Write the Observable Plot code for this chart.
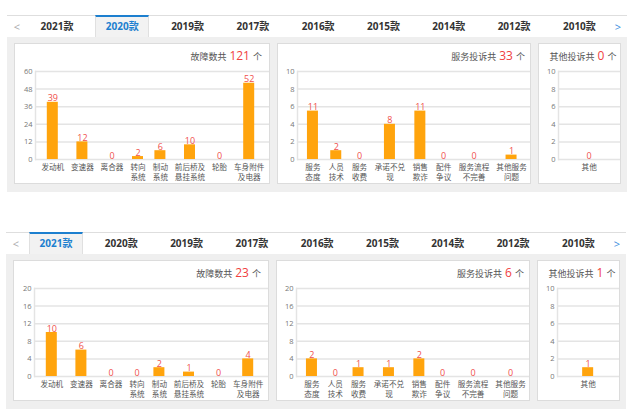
<!DOCTYPE html>
<html><head><meta charset="utf-8">
<script src="https://cdn.jsdelivr.net/npm/d3@7"></script>
<script src="https://cdn.jsdelivr.net/npm/@observablehq/plot@0.6"></script>
<style>
body{margin:0;width:640px;height:420px;background:#fff;position:relative;overflow:hidden;font-family:"Open Sans","Noto Sans CJK SC",sans-serif;}
.a{position:absolute;box-sizing:border-box;}
.tab{position:absolute;box-sizing:border-box;text-align:center;font-weight:bold;font-size:10px;color:#333;line-height:21px;font-family:"Open Sans","Noto Sans CJK SC",sans-serif;}
.tab.on{background:#f2f2f2;border-top:2px solid #1c7fcf;border-left:1px solid #e0e0e0;border-right:1px solid #e0e0e0;color:#1c7fcf;line-height:19px;}
.panel{position:absolute;box-sizing:border-box;background:#fff;border:1px solid #dcdcdc;}
.ttl{position:absolute;font-size:9px;color:#555;white-space:nowrap;font-family:"Noto Sans CJK SC",sans-serif;line-height:14px;}
.ttl b{font-weight:normal;color:#f0413f;font-size:12px;font-family:"Open Sans",sans-serif;margin:0 3px;}
</style></head><body>
<script>
const years = ["2021款","2020款","2019款","2017款","2016款","2015款","2014款","2012款","2010款"];
const faultCats = ["发动机","变速器","离合器","转向\n系统","制动\n系统","前后桥及\n悬挂系统","轮胎","车身附件\n及电器"];
const serviceCats = ["服务\n态度","人员\n技术","服务\n收费","承诺不兑\n现","销售\n欺诈","配件\n争议","服务流程\n不完善","其他服务\n问题"];
const otherCats = ["其他"];

// 2020款 (top screenshot)
const fault2020 = [39, 12, 0, 2, 6, 10, 0, 52];
const fault2020Bars = [39, 12, 0, 2, 6, 10, 0, 52];
const service2020 = [11, 2, 0, 8, 11, 0, 0, 1];
const service2020Bars = [5.5, 1, 0, 4, 5.5, 0, 0, 0.5];
const other2020 = [0];
const other2020Bars = [0];

// 2021款 (bottom screenshot)
const fault2021 = [10, 6, 0, 0, 2, 1, 0, 4];
const fault2021Bars = [10, 6, 0, 0, 2, 1, 0, 4];
const service2021 = [2, 0, 1, 1, 2, 0, 0, 0];
const service2021Bars = [4, 0, 2, 2, 4, 0, 0, 0];
const other2021 = [1];
const other2021Bars = [1];

const ticks60 = [0, 12, 24, 36, 48, 60];
const ticks20 = [0, 4, 8, 12, 16, 20];
const ticks10 = [0, 2, 4, 6, 8, 10];

function el(cls, x, y, w, h, style = "", html = "") {
  const d = document.createElement("div");
  d.className = cls;
  d.style.cssText = `left:${x}px;top:${y}px;` + (w != null ? `width:${w}px;` : "") + (h != null ? `height:${h}px;` : "") + style;
  d.innerHTML = html;
  document.body.appendChild(d);
  return d;
}

// columns are sized by their label width (as in the original table-like layout)
function chart(x, y, {cats, values, bars, domain, ticks, width, left, start, charW, gap}) {
  let acc = 0;
  const data = cats.map((c, i) => {
    const chars = d3.max(c.split("\n"), s => s.length);
    const w = chars * charW + gap;
    const center = acc + w / 2;
    acc += w;
    return {c, v: values[i], h: bars[i], center};
  });
  const total = acc;
  const labelOf = new Map(data.map(d => [d.center, d.c]));
  const bw = 11;
  const svg = Plot.plot({
    width, height: 122, marginTop: 9, marginBottom: 25, marginLeft: left, marginRight: 0,
    style: {fontFamily: '"Open Sans","Noto Sans CJK SC",sans-serif', background: "transparent", overflow: "visible"},
    x: {type: "linear", domain: [0, total], range: [start, start + total], label: null},
    y: {domain, ticks, label: null},
    marks: [
      Plot.gridY({ticks, stroke: "#e4e4e4", strokeOpacity: 1, strokeWidth: 1.5}),
      Plot.frame({anchor: "left", stroke: "#e4e4e4", strokeWidth: 1.5}),
      Plot.rectY(data, {x1: d => d.center - bw / 2, x2: d => d.center + bw / 2, y: "h", fill: "#ffa40d"}),
      Plot.text(data, {x: "center", y: "h", text: d => String(d.v), dy: -1, lineAnchor: "bottom", fill: "#f0504c", fontSize: 9}),
      Plot.axisY({ticks, tickSize: 0, tickPadding: 3, fontSize: 7.5, fill: "#777", label: null}),
      Plot.axisX({ticks: data.map(d => d.center), tickFormat: v => labelOf.get(v), tickSize: 0, tickPadding: 4, fontSize: 7.6, fill: "#555", label: null, lineHeight: 1.25, fontFamily: '"Noto Sans CJK SC",sans-serif'})
    ]
  });
  svg.style.position = "absolute";
  svg.style.left = x + "px";
  svg.style.top = y + "px";
  document.body.appendChild(svg);
}

function title(px, py, pw, label, total, align) {
  const t = el("ttl", 0, py, null, null, "", `${label}<b>${total}</b>个`);
  const w = t.getBoundingClientRect().width;
  if (align === "right") t.style.left = (px + pw - w) + "px";
  else t.style.left = (px + pw / 2 - w / 2) + "px";
}

function widget(x0, y0, active, D) {
  el("a", x0, y0, 620, 22, "border-top:1px solid #dedede;background:#fff;");
  el("a", x0, y0 + 22, 620, 155, "background:#efefef;");
  el("a", x0 + 4, y0 + 4, 12, 16, "color:#aaa;font-size:11px;text-align:center;line-height:16px;", "&lt;");
  el("a", x0 + 605, y0 + 4, 12, 16, "color:#3b8ee0;font-size:11px;text-align:center;line-height:16px;", "&gt;");
  years.forEach((yr, i) => {
    const cx = x0 + 50 + 65.3 * i;
    el("tab" + (i === active ? " on" : ""), cx - 27, y0 + (i === active ? 0 : 1), 54, i === active ? 22 : 21, "", yr);
  });
  const pt = y0 + 28, ph = 141;
  const ax = x0 + 7, bx = x0 + 270, cx = x0 + 531;
  el("panel", ax, pt, 256, ph);
  el("panel", bx, pt, 254, ph);
  el("panel", cx, pt, 83, ph);
  title(ax, y0 + 34, 248, "故障数共", d3.sum(D.fault), "right");
  title(bx, y0 + 34, 248, "服务投诉共", d3.sum(D.service), "right");
  title(cx, y0 + 34, 90, "其他投诉共", d3.sum(D.other), "center");
  chart(ax, y0 + 47, {cats: faultCats, values: D.fault, bars: D.faultBars, domain: D.fdom, ticks: D.fticks, width: 255, left: 21, start: 23.5, charW: 7.2, gap: 8});
  chart(bx, y0 + 47, {cats: serviceCats, values: D.service, bars: D.serviceBars, domain: D.sdom, ticks: D.sticks, width: 253, left: 20, start: 23.8, charW: 7.1, gap: 9.1});
  chart(cx, y0 + 47, {cats: otherCats, values: D.other, bars: D.otherBars, domain: [0, 10], ticks: ticks10, width: 82, left: 20, start: 39, charW: 7.1, gap: 9.1});
}

widget(7, 15, 1, {fault: fault2020, faultBars: fault2020Bars, fdom: [0, 60], fticks: ticks60,
  service: service2020, serviceBars: service2020Bars, sdom: [0, 10], sticks: ticks10,
  other: other2020, otherBars: other2020Bars});
widget(6, 232, 0, {fault: fault2021, faultBars: fault2021Bars, fdom: [0, 20], fticks: ticks20,
  service: service2021, serviceBars: service2021Bars, sdom: [0, 20], sticks: ticks20,
  other: other2021, otherBars: other2021Bars});
</script>
</body></html>
